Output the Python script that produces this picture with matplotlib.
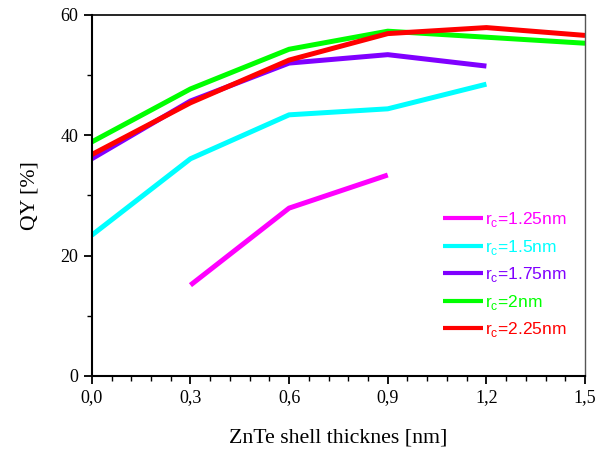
import matplotlib
matplotlib.use("Agg")
import matplotlib.pyplot as plt
from matplotlib.ticker import AutoMinorLocator, FixedLocator, FixedFormatter
import numpy as np

x = [0.0, 0.3, 0.6, 0.9, 1.2, 1.5]
qy_125 = [None, 15.1, 27.9, 33.4, None, None]
qy_150 = [23.4, 36.1, 43.4, 44.4, 48.5, None]
qy_175 = [36.1, 45.7, 52.0, 53.4, 51.5, None]
qy_200 = [38.9, 47.7, 54.3, 57.3, 56.3, 55.3]
qy_225 = [36.8, 45.4, 52.5, 56.9, 57.9, 56.6]

labels = ["1.25", "1.5", "1.75", "2", "2.25"]
colors = ["#ff00ff", "#00ffff", "#8000ff", "#00ff00", "#ff0000"]
series = [qy_125, qy_150, qy_175, qy_200, qy_225]

xticklabels = ["0,0", "0,3", "0,6", "0,9", "1,2", "1,5"]
yticks = [0, 20, 40, 60]

fig = plt.figure(figsize=(6.12, 4.53), dpi=100)
ax = fig.add_axes([0.150, 0.170, 0.806, 0.797])

for vals, lab, c in zip(series, labels, colors):
    xs = [xi for xi, v in zip(x, vals) if v is not None]
    ys = [v for v in vals if v is not None]
    ax.plot(xs, ys, color=c, lw=3.6, solid_capstyle="butt",
            label=r"r$_\mathregular{c}$=" + lab + "nm")

ax.set_xlim(0, 1.5)
ax.set_ylim(0, 60)
ax.xaxis.set_major_locator(FixedLocator(x))
ax.xaxis.set_major_formatter(FixedFormatter(xticklabels))
ax.xaxis.set_minor_locator(AutoMinorLocator(5))
ax.yaxis.set_major_locator(FixedLocator(yticks))
ax.yaxis.set_minor_locator(AutoMinorLocator(2))

ax.tick_params(which="both", direction="out", top=False, right=False)
ax.tick_params(which="major", length=6, width=1.3)
ax.tick_params(which="minor", length=3.5, width=1.0)
for lbl in ax.get_xticklabels() + ax.get_yticklabels():
    lbl.set_fontfamily("Liberation Serif")
    lbl.set_fontsize(13)

ax.spines["left"].set_linewidth(1.5)
ax.spines["bottom"].set_linewidth(1.5)
ax.spines["top"].set_linewidth(1.2)
ax.spines["right"].set_linewidth(1.0)
ax.spines["right"].set_color("#555555")

ax.set_xlabel("ZnTe shell thicknes [nm]", fontfamily="Liberation Serif",
              fontsize=15.7, labelpad=16)
ax.set_ylabel("QY [%]", fontfamily="Liberation Serif", fontsize=15.7, labelpad=15)

leg = ax.legend(loc="upper left", bbox_to_anchor=(0.712, 0.459), frameon=False,
                prop={"family": "Liberation Sans", "size": 12.5},
                handlelength=2.3, handletextpad=0.1, labelspacing=0.49,
                borderaxespad=0, borderpad=0)
for txt, c in zip(leg.get_texts(), colors):
    txt.set_color(c)
for ln in leg.get_lines():
    ln.set_linewidth(3.0)

fig.savefig("out.png", dpi=100)
